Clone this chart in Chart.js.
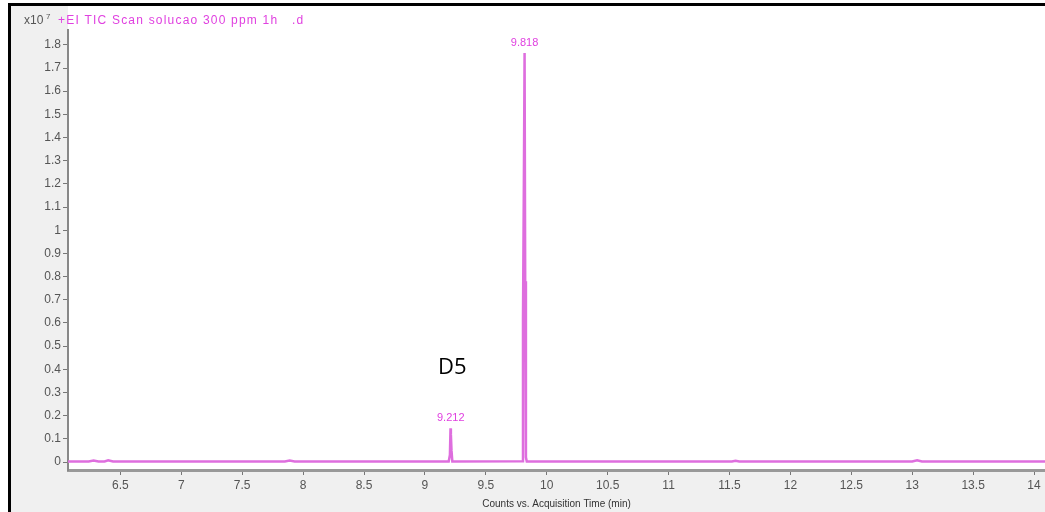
<!DOCTYPE html>
<html>
<head>
<meta charset="utf-8">
<script src="https://cdn.jsdelivr.net/npm/chart.js@4.4.1/dist/chart.umd.min.js"></script>
<style>
    html, body { margin: 0; padding: 0; background: #ffffff; overflow: hidden; }
    #frame {
        position: absolute; left: 8px; top: 3px;
        width: 1040px; height: 512px;
        border-left: 3px solid #000; border-top: 3px solid #000;
        background: #f0f0f0;
    }
    canvas { display: block; }
</style>
</head>
<body>
<div id="frame"><canvas id="ticChart" width="1034" height="506"></canvas></div>
<script>
// Retention time (min) and counts (x10^7)
const times = [6.07, 6.24, 6.28, 6.32, 6.37, 6.40, 6.44, 7.85, 7.89, 7.93,
               9.195, 9.205, 9.210, 9.213, 9.218, 9.225,
               9.800, 9.805, 9.812, 9.818, 9.823, 9.829, 9.836,
               11.52, 11.55, 11.58, 13.00, 13.04, 13.08, 14.09];
const counts = [0.002, 0.002, 0.006, 0.002, 0.002, 0.007, 0.002, 0.002, 0.006, 0.002,
                0.002, 0.03, 0.145, 0.12, 0.05, 0.002,
                0.003, 0.62, 1.2, 1.765, 0.78, 0.02, 0.002,
                0.002, 0.005, 0.002, 0.002, 0.007, 0.002, 0.002];

const xTicks = [6.5, 7, 7.5, 8, 8.5, 9, 9.5, 10, 10.5, 11, 11.5, 12, 12.5, 13, 13.5, 14];
const yTicks = [0, 0.1, 0.2, 0.3, 0.4, 0.5, 0.6, 0.7, 0.8, 0.9, 1, 1.1, 1.2, 1.3, 1.4, 1.5, 1.6, 1.7, 1.8];

const peakTimes = [9.212, 9.818];
const peakTops = [0.145, 1.765];
const peakLabels = ['9.212', '9.818'];

const magenta = 'rgb(222, 110, 222)';
const labelFont = '"Liberation Sans", Arial, sans-serif';

// grey margins, white plot region, header text, peak labels
const decorPlugin = {
    id: 'decor',
    beforeDraw(chart) {
        const { ctx, chartArea } = chart;
        ctx.save();
        ctx.fillStyle = '#f0f0f0';
        ctx.fillRect(0, 0, chart.width, chart.height);
        ctx.fillStyle = '#ffffff';
        ctx.fillRect(chartArea.left, 0, chart.width - chartArea.left, chartArea.bottom);
        ctx.restore();
    },
    afterDraw(chart) {
        const { ctx } = chart;
        const x = chart.scales.x, y = chart.scales.y;
        ctx.save();
        ctx.textBaseline = 'middle';
        ctx.fillStyle = '#555';
        ctx.font = '12px ' + labelFont;
        ctx.textAlign = 'left';
        ctx.fillText('x10', 13, 15);
        ctx.font = '8px ' + labelFont;
        ctx.fillText('7', 35, 11);
        ctx.fillStyle = '#e040e0';
        ctx.font = '12px ' + labelFont;
        ctx.letterSpacing = '1.2px';
        ctx.fillText('+EI TIC Scan solucao 300 ppm 1h   .d', 47, 15);
        ctx.letterSpacing = '0px';

        ctx.textAlign = 'center';
        ctx.font = '11px ' + labelFont;
        ctx.fillStyle = '#e040e0';
        peakTimes.forEach((t, i) => {
            ctx.fillText(peakLabels[i], x.getPixelForValue(t), y.getPixelForValue(peakTops[i]) - 10);
        });

        ctx.fillStyle = '#000';
        ctx.font = '22px "Open Sans", sans-serif';
        ctx.fillText('D5', x.getPixelForValue(9.225), y.getPixelForValue(0.405));
        ctx.restore();
    }
};

const chart = new Chart(document.getElementById('ticChart').getContext('2d'), {
    type: 'line',
    data: {
        datasets: [{
            data: times.map((t, i) => ({ x: t, y: counts[i] })),
            borderColor: magenta,
            borderWidth: 2.5,
            pointRadius: 0,
            tension: 0,
            fill: false
        }]
    },
    options: {
        responsive: false,
        animation: false,
        devicePixelRatio: 1,
        layout: { padding: { top: 24, right: 0, left: 0, bottom: 0 } },
        plugins: {
            legend: { display: false },
            tooltip: { enabled: false }
        },
        scales: {
            x: {
                type: 'linear',
                min: 6.07,
                max: 14.09,
                afterFit: (s) => { s.height = 42; },
                afterBuildTicks: (s) => { s.ticks = xTicks.map(v => ({ value: v })); },
                border: { display: true, color: '#999', width: 3 },
                grid: { drawOnChartArea: false, drawTicks: true, tickLength: 5, color: '#777' },
                ticks: {
                    color: '#555',
                    font: { size: 12, family: labelFont },
                    padding: 3,
                    maxRotation: 0,
                    autoSkip: false,
                    callback: (v) => String(v)
                },
                title: {
                    display: true,
                    text: 'Counts vs. Acquisition Time (min)',
                    color: '#333',
                    font: { size: 10, family: labelFont },
                    padding: { top: 0, bottom: 2 }
                }
            },
            y: {
                min: -0.0345,
                max: 1.864,
                afterFit: (s) => { s.width = 57; },
                afterBuildTicks: (s) => { s.ticks = yTicks.map(v => ({ value: v })); },
                border: { display: true, color: '#888', width: 2 },
                grid: { drawOnChartArea: false, drawTicks: true, tickLength: 5, color: '#777' },
                ticks: {
                    color: '#555',
                    font: { size: 12, family: labelFont },
                    padding: 2,
                    autoSkip: false,
                    callback: (v) => String(v)
                }
            }
        }
    },
    plugins: [decorPlugin]
});
</script>
</body>
</html>
